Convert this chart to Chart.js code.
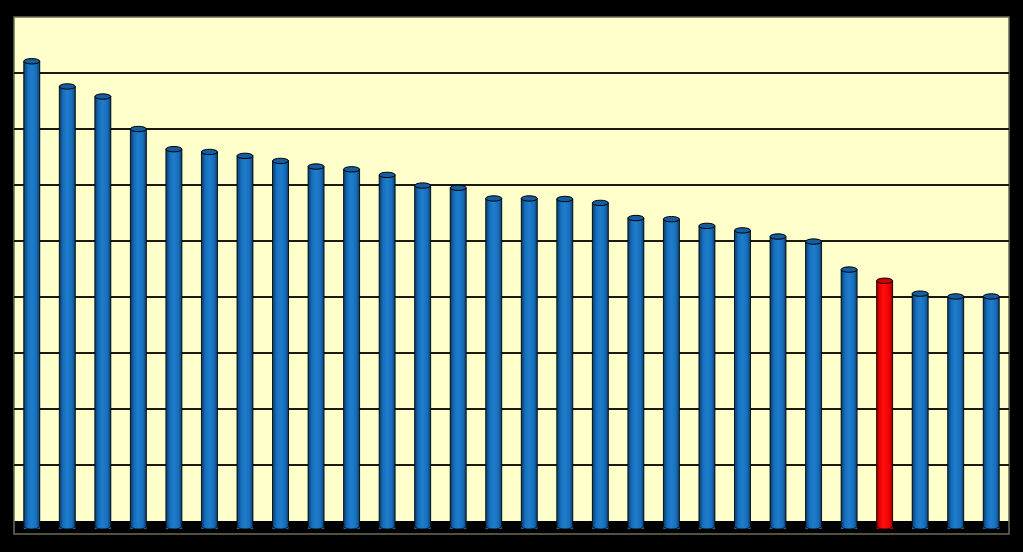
<!DOCTYPE html>
<html>
<head>
<meta charset="utf-8">
<title>Bars</title>
<script src="https://cdn.jsdelivr.net/npm/chart.js@4.4.1/dist/chart.umd.min.js"></script>
<style>
  html, body { margin: 0; padding: 0; background: #000; }
  #wrap { width: 1023px; height: 552px; }
</style>
</head>
<body>
<div id="wrap"><canvas id="barChart"></canvas></div>
<script>
// Данные графика
const categories = ['1','2','3','4','5','6','7','8','9','10','11','12','13','14',
                    '15','16','17','18','19','20','21','22','23','24','25','26','27','28'];
const values = [8.21, 7.76, 7.58, 7.00, 6.64, 6.59, 6.52, 6.43, 6.33, 6.28, 6.18, 5.99, 5.95, 5.76,
                5.76, 5.75, 5.68, 5.41, 5.39, 5.27, 5.19, 5.08, 4.99, 4.49, 4.29, 4.06, 4.01, 4.01];
const highlightIndex = 24;         // красный столбец
const gridTicks = [1, 2, 3, 4, 5, 6, 7, 8];
const yMax = 9;
const floorMin = -0.232;           // нижний край "пола"
const barBase = -0.143;            // где заканчиваются цилиндры

// Фон области построения и пол
const backdrop = {
    id: 'backdrop',
    beforeDraw(chart) {
        const { ctx, chartArea: a, scales: { y } } = chart;
        const zero = y.getPixelForValue(0);
        ctx.save();
        ctx.fillStyle = '#ffffcc';
        ctx.fillRect(a.left, a.top, a.right - a.left, zero - a.top);
        ctx.fillStyle = '#000';
        ctx.fillRect(a.left, zero, a.right - a.left, a.bottom - zero);
        ctx.strokeStyle = '#6b6b5a';
        ctx.lineWidth = 1.5;
        ctx.strokeRect(a.left, a.top, a.right - a.left, a.bottom - a.top);
        ctx.restore();
    }
};

// Цилиндры: заливка с градиентом и крышки
const cylinders = {
    id: 'cylinders',
    afterDatasetsDraw(chart) {
        const ctx = chart.ctx;
        const meta = chart.getDatasetMeta(0);
        meta.data.forEach((bar, i) => {
            const red = i === highlightIndex;
            const w = bar.width;
            const left = bar.x - w / 2;
            const ry = 2.7;
            const g = ctx.createLinearGradient(left, 0, left + w, 0);
            if (red) {
                g.addColorStop(0, '#900000');
                g.addColorStop(0.2, '#ee0000');
                g.addColorStop(0.45, '#ff1010');
                g.addColorStop(0.8, '#ee0000');
                g.addColorStop(1, '#8a0000');
            } else {
                g.addColorStop(0, '#0a3a66');
                g.addColorStop(0.25, '#176fbd');
                g.addColorStop(0.5, '#1e7dcc');
                g.addColorStop(0.8, '#176db9');
                g.addColorStop(1, '#0b3a68');
            }
            ctx.save();
            // тело с закруглённым низом
            ctx.beginPath();
            ctx.moveTo(left, bar.y);
            ctx.lineTo(left, bar.base - ry);
            ctx.ellipse(bar.x, bar.base - ry, w / 2, ry, 0, Math.PI, 0, true);
            ctx.lineTo(left + w, bar.y);
            ctx.closePath();
            ctx.fillStyle = g;
            ctx.fill();
            ctx.strokeStyle = 'rgba(0,0,0,0.8)';
            ctx.lineWidth = 1;
            ctx.stroke();
            // крышка
            ctx.beginPath();
            ctx.ellipse(bar.x, bar.y, w / 2, ry, 0, 0, Math.PI * 2);
            ctx.fillStyle = red ? '#d40000' : '#155d9e';
            ctx.fill();
            ctx.strokeStyle = '#000';
            ctx.stroke();
            ctx.restore();
        });
    }
};

const ctx = document.getElementById('barChart').getContext('2d');
const barChart = new Chart(ctx, {
    type: 'bar',
    data: {
        labels: categories,
        datasets: [{
            data: values,
            base: barBase,
            backgroundColor: values.map((v, i) => i === highlightIndex ? '#ff0000' : '#1f7fcf'),
            borderWidth: 0,
            barPercentage: 0.9,
            categoryPercentage: 0.5
        }]
    },
    options: {
        responsive: true,
        maintainAspectRatio: false,
        animation: false,
        layout: {
            padding: { left: 14, top: 17, right: 14, bottom: 18 }
        },
        plugins: {
            legend: { display: false },
            tooltip: { enabled: false }
        },
        scales: {
            x: {
                display: false,
                offset: true
            },
            y: {
                min: floorMin,
                max: yMax,
                afterBuildTicks(scale) {
                    scale.ticks = gridTicks.map(v => ({ value: v }));
                },
                ticks: { display: false },
                grid: {
                    color: '#1a1a10',
                    lineWidth: 2,
                    drawTicks: false
                },
                border: { display: false }
            }
        }
    },
    plugins: [backdrop, cylinders]
});
</script>
</body>
</html>
